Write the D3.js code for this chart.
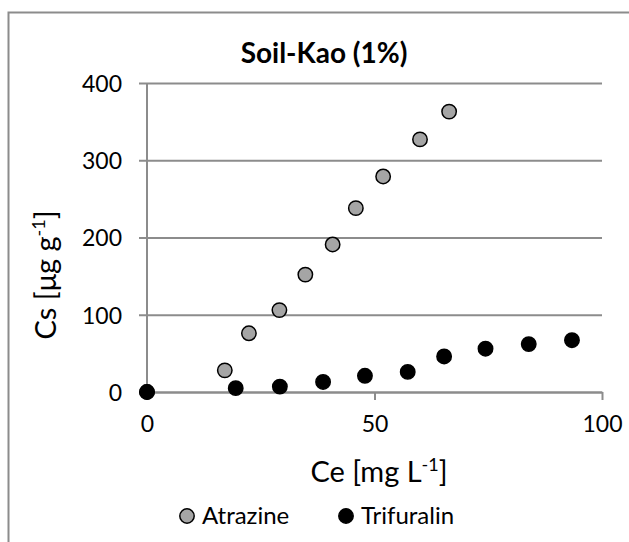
<!DOCTYPE html>
<html>
<head>
<meta charset="utf-8">
<script src="https://cdn.jsdelivr.net/npm/d3@7"></script>
<style>
  body { margin: 0; background: #fff; }
  text { font-family: Lato, "Open Sans", sans-serif; fill: #000; }
</style>
</head>
<body>
<div id="chart"></div>
<script>
// data
var atrazineCe = [0, 17.1, 22.4, 29.1, 34.8, 40.8, 45.9, 51.9, 60.0, 66.4];
var atrazineCs = [0, 28, 76, 106, 152, 191, 238, 279, 327, 363];
var trifuralinCe = [0, 19.5, 29.2, 38.7, 47.9, 57.3, 65.3, 74.4, 83.9, 93.4];
var trifuralinCs = [0, 5, 7, 13, 21, 26, 46, 56, 62, 67];
var xTicks = [0, 50, 100];
var yTicks = [0, 100, 200, 300, 400];
var seriesNames = ["Atrazine", "Trifuralin"];
var seriesColors = ["#a5a5a5", "#000000"];

var svgWidth = 629, svgHeight = 542;
var margin = { top: 83, bottom: 150, right: 27, left: 147 };
var width = svgWidth - margin.left - margin.right;
var height = svgHeight - margin.top - margin.bottom;

var svg = d3.select("#chart").append("svg")
  .attr("width", svgWidth)
  .attr("height", svgHeight);

// chart area frame (runs off the right and bottom edge)
svg.append("rect")
  .attr("x", 8.5).attr("y", 12.5)
  .attr("width", 640).attr("height", 560)
  .attr("fill", "none")
  .attr("stroke", "#8c8c8c")
  .attr("stroke-width", 2);

var chartGroup = svg.append("g")
  .attr("transform", `translate(${margin.left}, ${margin.top})`);

var x = d3.scaleLinear().domain([0, 100]).range([0, width]);
var y = d3.scaleLinear().domain([0, 400]).range([height, 0]);

// horizontal gridlines + left tick marks
var leftAxis = d3.axisLeft(y).tickValues(yTicks).tickSize(-width - 8);
var yAxisG = chartGroup.append("g").call(leftAxis);
yAxisG.select(".domain").remove();
yAxisG.selectAll(".tick line")
  .attr("x1", -8).attr("x2", width)
  .attr("stroke", "#8c8c8c").attr("stroke-width", 2);
yAxisG.selectAll(".tick text")
  .attr("x", -25)
  .attr("dy", "0.36em")
  .style("font-size", "23px");

// vertical axis line
chartGroup.append("line")
  .attr("x1", 0).attr("x2", 0)
  .attr("y1", 0).attr("y2", height)
  .attr("stroke", "#8c8c8c").attr("stroke-width", 2);

// bottom axis
var bottomAxis = d3.axisBottom(x).tickValues(xTicks).tickSize(8).tickSizeOuter(0);
var xAxisG = chartGroup.append("g")
  .attr("transform", `translate(0, ${height})`)
  .call(bottomAxis);
xAxisG.select(".domain").attr("stroke", "#8c8c8c").attr("stroke-width", 2);
xAxisG.selectAll(".tick line").attr("stroke", "#8c8c8c").attr("stroke-width", 2);
xAxisG.selectAll(".tick text")
  .attr("y", 40).attr("dy", 0)
  .style("font-size", "23px");

// points
var series = [
  { name: seriesNames[0], color: seriesColors[0], xs: atrazineCe, ys: atrazineCs },
  { name: seriesNames[1], color: seriesColors[1], xs: trifuralinCe, ys: trifuralinCs }
];
series.forEach(function(s) {
  chartGroup.append("g").selectAll("circle")
    .data(s.xs.map(function(v, i) { return { ce: v, cs: s.ys[i] }; }))
    .enter().append("circle")
    .attr("cx", d => x(d.ce))
    .attr("cy", d => y(d.cs))
    .attr("r", 7.2)
    .attr("fill", s.color)
    .attr("stroke", "#000")
    .attr("stroke-width", 1.5);
});

// title
svg.append("text")
  .attr("x", 324).attr("y", 63)
  .attr("text-anchor", "middle")
  .style("font-size", "28px")
  .style("font-weight", "bold")
  .text("Soil-Kao (1%)");

// x axis title
var xt = svg.append("text")
  .attr("x", 379).attr("y", 482)
  .attr("text-anchor", "middle")
  .style("font-size", "29px");
xt.append("tspan").text("Ce [mg L");
xt.append("tspan").attr("dy", -11).style("font-size", "18px").text("-1");
xt.append("tspan").attr("dy", 11).text("]");

// y axis title
var yt = svg.append("text")
  .attr("transform", "translate(56, 275) rotate(-90)")
  .attr("text-anchor", "middle")
  .style("font-size", "29px");
yt.append("tspan").text("Cs [μg g");
yt.append("tspan").attr("dy", -11).style("font-size", "18px").text("-1");
yt.append("tspan").attr("dy", 11).text("]");

// legend
var legendX = [187, 346];
var legend = svg.append("g");
series.forEach(function(s, i) {
  legend.append("circle")
    .attr("cx", legendX[i]).attr("cy", 516)
    .attr("r", 7.2)
    .attr("fill", s.color)
    .attr("stroke", "#000")
    .attr("stroke-width", 1.5);
  legend.append("text")
    .attr("x", legendX[i] + 15).attr("y", 524)
    .style("font-size", "24px")
    .text(s.name);
});
</script>
</body>
</html>
